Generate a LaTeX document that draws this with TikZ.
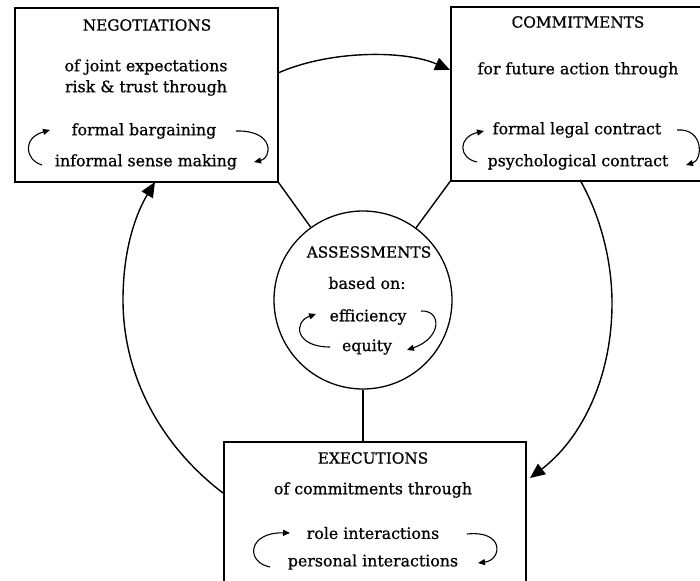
\documentclass[tikz,border=0pt]{standalone}
\usepackage{fontspec}
\setmainfont{DejaVu Serif}
\newfontfamily\heavy{DejaVu Serif}[FakeBold=0.7]
\usetikzlibrary{arrows.meta}
\tikzset{
  box/.style={draw, line width=1.6pt, inner sep=0pt, anchor=north west},
  ring/.style={draw, line width=1.3pt, circle, inner sep=0pt, minimum size=178pt},
  txt/.style={inner sep=0pt, font=\heavy\fontsize{15.8}{18}\selectfont},
  ttl/.style={inner sep=0pt, font=\heavy\fontsize{15.3}{18}\selectfont},
  link/.style={line width=1.4pt},
  flow/.style={line width=1.4pt, -{Triangle[length=15pt,width=13pt]}},
  mini/.style={line width=1.1pt, -{Triangle[length=7pt,width=6pt]}}
}
\begin{document}
\begin{tikzpicture}[x=1pt,y=-1pt]
\useasboundingbox (0,0) rectangle (700,580);
\fill[white] (0,0) rectangle (700,580);

% boxes
\node[box, minimum width=263pt, minimum height=174pt] (neg) at (14,7) {};
\node[box, minimum width=254pt, minimum height=174pt] (com) at (450,6) {};
\node[box, minimum width=302pt, minimum height=142pt] (exe) at (223,441) {};
\node[ring] (ass) at (363,300) {};

% texts: negotiations
\node[ttl] (negT) at (147,25) {NEGOTIATIONS};
\node[txt] (neg1) at (146,67) {of joint expectations};
\node[txt] (neg2) at (146,88) {risk \& trust through};
\node[txt] (neg3) at (144,131) {formal bargaining};
\node[txt] (neg4) at (146,162) {informal sense making};

% commitments
\node[ttl] (comT) at (578,22) {COMMITMENTS};
\node[txt] (com1) at (578,70) {for future action through};
\node[txt] (com2) at (577,130) {formal legal contract};
\node[txt] (com3) at (578,162) {psychological contract};

% assessments
\node[ttl] (assT) at (369,252) {ASSESSMENTS};
\node[txt] (ass1) at (367,283) {based on:};
\node[txt] (ass2) at (368,317) {efficiency};
\node[txt] (ass3) at (367,347) {equity};

% executions
\node[ttl] (exeT) at (373,458) {EXECUTIONS};
\node[txt] (exe1) at (373,490) {of commitments through};
\node[txt] (exe2) at (373,533) {role interactions};
\node[txt] (exe3) at (373,562) {personal interactions};

% radial links
\draw[link] (neg.south east) -- (ass);
\draw[link] (com.south west) -- (ass);
\draw[link] (ass.south) -- (ass.south |- exe.north);

% main flow arrows
\coordinate (a1s) at (278,73);
\coordinate (a1e) at (450,70);
\draw[flow] (a1s) .. controls (330,50) and (405,50) .. (a1e);

\coordinate (a2s) at (580,180);
\coordinate (a2m) at (612,303);
\coordinate (a2e) at (530,478);
\draw[flow] (a2s) .. controls (600,215) and (612,260) .. (a2m)
  .. controls (612,380) and (580,440) .. (a2e);

\coordinate (a3s) at (223,493);
\coordinate (a3m) at (123,300);
\coordinate (a3e) at (155,182);
\draw[flow] (a3s) .. controls (160,445) and (123,375) .. (a3m)
  .. controls (123,245) and (138,210) .. (a3e);

% mini loop arrows
\coordinate (n1) at (42,165); \coordinate (n1e) at (50,130);
\draw[mini] (n1) .. controls (25,160) and (22,138) .. (n1e);
\coordinate (n2) at (236,131); \coordinate (n2e) at (254,162);
\draw[mini] (n2) .. controls (275,130) and (272,158) .. (n2e);

\coordinate (c1) at (477,162); \coordinate (c1e) at (484,131);
\draw[mini] (c1) .. controls (458,158) and (458,137) .. (c1e);
\coordinate (c2) at (677,130); \coordinate (c2e) at (686,165);
\draw[mini] (c2) .. controls (704,128) and (703,160) .. (c2e);

\coordinate (s1) at (330,347); \coordinate (s1e) at (316,314);
\draw[mini] (s1) .. controls (295,347) and (293,322) .. (s1e);
\coordinate (s2) at (421,311); \coordinate (s2e) at (407,350);
\draw[mini] (s2) .. controls (442,310) and (442,338) .. (s2e);

\coordinate (e1) at (270,567); \coordinate (e1e) at (290,533);
\draw[mini] (e1) .. controls (245,562) and (248,532) .. (e1e);
\coordinate (e2) at (467,534); \coordinate (e2e) at (478,563);
\draw[mini] (e2) .. controls (505,530) and (502,560) .. (e2e);
\end{tikzpicture}
\end{document}
